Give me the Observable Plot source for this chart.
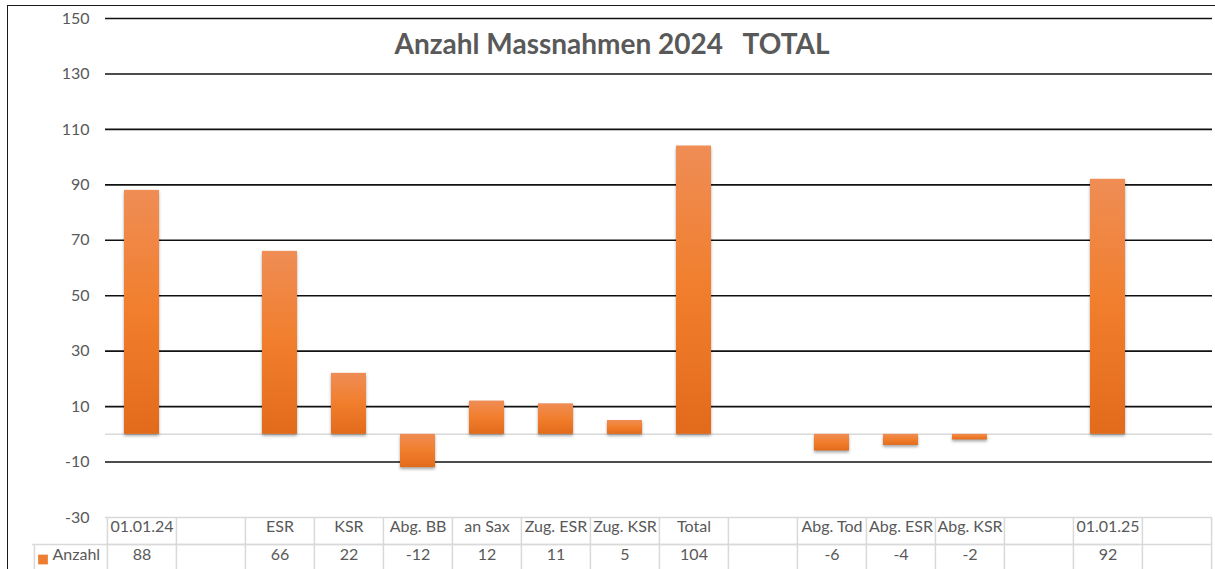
<!DOCTYPE html>
<html>
<head>
<meta charset="utf-8">
<script src="https://cdn.jsdelivr.net/npm/d3@7"></script>
<script src="https://cdn.jsdelivr.net/npm/@observablehq/plot@0.6"></script>
<style>
html, body { margin: 0; padding: 0; background: #fff; }
#wrap { position: relative; width: 1215px; height: 569px; overflow: hidden; }
#wrap svg { position: absolute; left: 0; top: 0; }
#frame { position: absolute; left: 7px; top: 5px; width: 1300px; height: 700px;
  border-left: 1.5px solid #1a1a1a; border-top: 1.5px solid #1a1a1a; pointer-events: none; }
g[aria-label="bar"] rect { filter: drop-shadow(0px 2px 1.5px rgba(0,0,0,0.35)); }
</style>
</head>
<body>
<div id="wrap"><div id="frame"></div></div>
<script>
const title = "Anzahl Massnahmen 2024\u00a0\u00a0\u00a0TOTAL";
const seriesName = "Anzahl";
const categories = ["01.01.24", "", "ESR", "KSR", "Abg. BB", "an Sax", "Zug. ESR", "Zug. KSR", "Total", "", "Abg. Tod", "Abg. ESR", "Abg. KSR", "", "01.01.25", ""];
const values = [88, null, 66, 22, -12, 12, 11, 5, 104, null, -6, -4, -2, null, 92, null];
const yTicks = [-30, -10, 10, 30, 50, 70, 90, 110, 130, 150];
const gridTicks = yTicks.filter(t => t > -30);

const W = 1215, H = 569;
const mL = 105, mR = 3, mT = 18, mB = 52;
const bw = (W - mL - mR) / categories.length;
const rowH = 27;
const legendW = 73;

const data = categories.map((c, i) => ({i, label: c, value: values[i]}));
const bars = data.filter(d => d.value != null);
const idx = d3.range(categories.length);

const textColor = "#595959";
const tableColor = "#d9d9d9";

const defs = () => {
  const g = d3.create("svg:defs");
  const lg = g.append("linearGradient").attr("id", "barGrad")
    .attr("x1", 0).attr("y1", 0).attr("x2", 0).attr("y2", 1);
  lg.append("stop").attr("offset", "0%").attr("stop-color", "#ef8d55");
  lg.append("stop").attr("offset", "50%").attr("stop-color", "#f17e2c");
  lg.append("stop").attr("offset", "100%").attr("stop-color", "#e26b1b");
  return g.node();
};

const tableRule = {stroke: tableColor, strokeWidth: 1.5};

const plot = Plot.plot({
  width: W,
  height: H,
  marginLeft: mL,
  marginRight: mR,
  marginTop: mT,
  marginBottom: mB,
  style: {fontFamily: "Lato, 'Open Sans', sans-serif", fontSize: "15px", color: textColor, background: "transparent"},
  x: {type: "band", domain: idx, padding: 0, axis: null},
  y: {domain: [-30, 150], axis: null},
  marks: [
    defs,
    Plot.ruleY(gridTicks, {stroke: "#111", strokeWidth: 1.6}),
    Plot.ruleY([0], {stroke: tableColor, strokeWidth: 1.5}),
    Plot.axisY(yTicks, {tickSize: 0, tickPadding: 16, fontSize: 16, fill: textColor, label: null, tickFormat: d => String(d)}),
    Plot.barY(bars, {x: "i", y: "value", fill: "url(#barGrad)", insetLeft: 17, insetRight: 17}),
    Plot.text([title], {frameAnchor: "top", dx: (W / 2 + 4) - (mL + (W - mL - mR) / 2), dy: 16,
      fontSize: 28, fontWeight: 700, fill: textColor}),
    // data table
    Plot.ruleY([-30], tableRule),
    Plot.ruleY([-30], {...tableRule, dy: rowH}),
    Plot.ruleY([-30], {...tableRule, dy: rowH, dx: -legendW}),
    Plot.ruleX(idx, {...tableRule, x: d => d, dx: -bw / 2, y1: -30, y2: -30, insetBottom: -mB}),
    Plot.ruleX([idx[idx.length - 1]], {...tableRule, x: d => d, dx: bw / 2, y1: -30, y2: -30, insetBottom: -mB}),
    Plot.ruleX([idx[0]], {...tableRule, x: d => d, dx: -bw / 2 - legendW, y1: -30, y2: -30, insetTop: rowH, insetBottom: -mB}),
    Plot.text(data, {x: "i", text: "label", frameAnchor: "bottom", dy: 14.5, fontSize: 16, fill: textColor}),
    Plot.text(data, {x: "i", text: d => d.value == null ? "" : String(d.value), frameAnchor: "bottom", dy: 42.5, fontSize: 16, fill: textColor}),
    Plot.dot([seriesName], {frameAnchor: "bottom-left", dx: -62.5, dy: 42, symbol: "square", r: 5.5, fill: "#ed7d31"}),
    Plot.text([seriesName], {frameAnchor: "bottom-left", dx: -53, dy: 42.5, textAnchor: "start", fontSize: 16, fill: textColor})
  ]
});

document.getElementById("wrap").appendChild(plot);
</script>
</body>
</html>
